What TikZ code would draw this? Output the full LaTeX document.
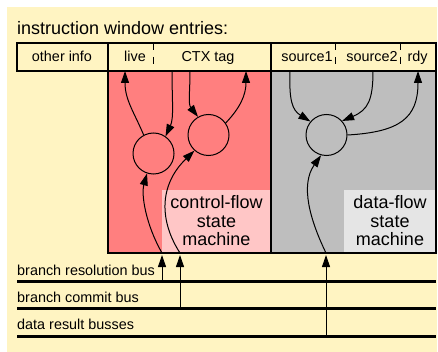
\documentclass[tikz,border=0pt]{standalone}
\usepackage{fontspec}
\setmainfont{Liberation Sans}
\usetikzlibrary{arrows.meta}
\definecolor{cream}{HTML}{FFF4C2}
\definecolor{ctlred}{HTML}{FF7F7F}
\definecolor{ctlpink}{HTML}{FFC6C6}
\definecolor{dfgray}{HTML}{BEBEBE}
\definecolor{dflight}{HTML}{E5E5E5}
\tikzset{
  bigtext/.style={font=\fontsize{18}{18.5}\selectfont, inner sep=0pt},
  smalltext/.style={font=\fontsize{14.4}{16}\selectfont, inner sep=0pt},
  fieldtext/.style={smalltext, anchor=base},
  busline/.style={line width=3pt},
  sep/.style={line width=1pt, dash pattern=on 7pt off 7pt},
  frame/.style={line width=1.3pt},
  fsm/.style={circle, draw, line width=1pt, minimum size=41pt, inner sep=0pt},
  flow/.style={line width=1pt, -{Triangle[length=12pt,width=8pt]}},
  smlabel/.style={bigtext, align=center}
}
\begin{document}
\begin{tikzpicture}[x=1pt,y=-1pt]
\useasboundingbox (0,0) rectangle (438,352);
% background panel
\fill[cream] (7,7) rectangle (437,352);

% title
\node[bigtext, anchor=base west] (title) at (17,35) {instruction window entries:};

% state machine areas
\fill[ctlred] (108,71) rectangle (271,253);
\fill[dfgray] (271,71) rectangle (436,253);
\fill[ctlpink] (162,190) rectangle (271,253);
\fill[dflight] (344,190) rectangle (436,253);
\draw[frame] (108,71) rectangle (271,253);
\draw[frame] (271,71) rectangle (436,253);

% entry fields
\fill[cream] (17,43) rectangle (436,71);
\draw[frame] (17,43) rectangle (436,71);
\draw[frame] (108,43) -- (108,71);
\draw[line width=1.6pt] (271,43) -- (271,71);
\draw[sep] (153,43) -- (153,71);
\draw[sep, dash phase=0pt] (335,43) -- (335,71);
\draw[sep] (400,43) -- (400,71);

\node[fieldtext] (other) at (62,62) {other info};
\node[fieldtext] (live)  at (135,62) {live};
\node[fieldtext] (ctx)   at (208,62) {CTX tag};
\node[fieldtext] (src1)  at (307,62) {source1};
\node[fieldtext] (src2)  at (372,62) {source2};
\node[fieldtext] (rdy)   at (417.5,62) {rdy};

% state machine labels
\node[smlabel] (cflabel) at (216.5,221) {control-flow\\state\\machine};
\node[smlabel] (dflabel) at (390,221) {data-flow\\state\\machine};

% state circles
\node[fsm] (c1) at (153.5,153.5) {};
\node[fsm] (c2) at (208.5,135) {};
\node[fsm] (c3) at (326.5,135) {};

% field attachment points
\coordinate (liveIn)  at (125,71);
\coordinate (ctxOutA) at (172,71);
\coordinate (ctxOutB) at (190,71);
\coordinate (ctxIn)   at (246,71);
\coordinate (s1Out)   at (290,71);
\coordinate (s2Out)   at (373,71);
\coordinate (rdyIn)   at (418,71);

% buses
\coordinate (resL) at (17,281);  \coordinate (resR) at (436,281);
\coordinate (comL) at (17,308);  \coordinate (comR) at (436,308);
\coordinate (datL) at (17,336);  \coordinate (datR) at (436,336);
\draw[busline] (resL) -- (resR);
\draw[busline] (comL) -- (comR);
\draw[busline] (datL) -- (datR);
\node[smalltext, anchor=base west] (resText) at (17,275) {branch resolution bus};
\node[smalltext, anchor=base west] (comText) at (17,302) {branch commit bus};
\node[smalltext, anchor=base west] (datText) at (17,329) {data result busses};

% bus taps and box entry points
\coordinate (resTap) at (162,281);
\coordinate (comTap) at (180,308);
\coordinate (datTap) at (326,336);
\coordinate (resIn)  at (162,255);
\coordinate (comIn)  at (180,255);
\coordinate (datIn)  at (326,255);
\coordinate (resEdge) at (162,253);
\coordinate (comEdge) at (180,253);
\coordinate (datEdge) at (326,253);

\draw[flow] (resTap) -- (resIn);
\draw[flow] (comTap) -- (comIn);
\draw[flow] (datTap) -- (datIn);

% control-flow machine connections
\draw[flow] (c1.118) .. controls (134,112) and (125,100) .. (liveIn);
\draw[flow] (ctxOutA) .. controls (172,100) and (174,118) .. (c1.55);
\draw[flow] (ctxOutB) .. controls (190,92) and (188,104) .. (c2.120);
\draw[flow] (c2.35) .. controls (240,108) and (246,95) .. (ctxIn);
\draw[flow] (resEdge) .. controls (146,225) and (141,195) .. (c1.252);
\draw[flow] (comEdge) .. controls (160,222) and (158,186) .. (c2.228);

% data-flow machine connections
\draw[flow] (s1Out) .. controls (289,100) and (292,110) .. (c3.140);
\draw[flow] (s2Out) .. controls (373,100) and (368,110) .. (c3.42);
\draw[flow] (c3.east) .. controls (400,132) and (418,118) .. (rdyIn);
\draw[flow] (datEdge) .. controls (310,220) and (300,185) .. (c3.255);
\end{tikzpicture}
\end{document}
